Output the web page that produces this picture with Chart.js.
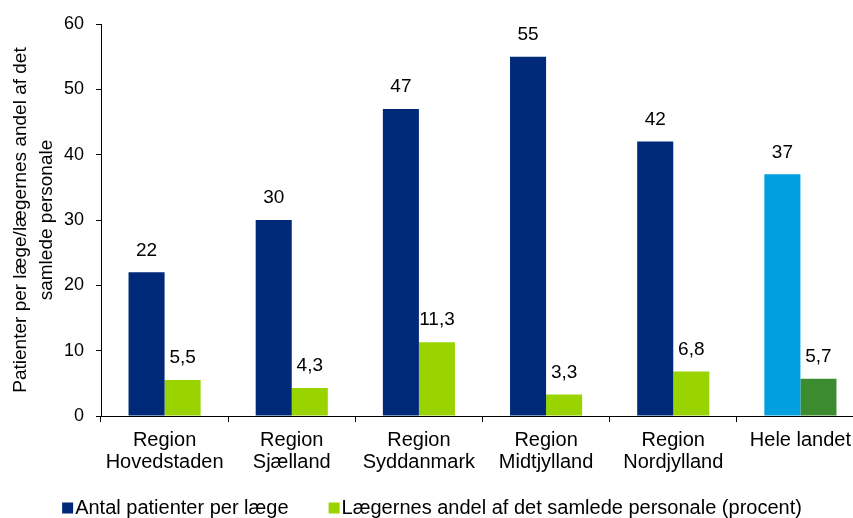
<!DOCTYPE html>
<html>
<head>
<meta charset="utf-8">
<script src="https://cdn.jsdelivr.net/npm/chart.js@4.4.1/dist/chart.umd.min.js"></script>
<style>
  html, body { margin: 0; padding: 0; background: #fff; overflow: hidden; }
  #wrap { position: absolute; left: 0; top: 0; width: 870px; height: 518px; }
</style>
</head>
<body>
<div id="wrap"><canvas id="c" width="870" height="518"></canvas></div>
<script>
const categories = [
  ['Region', 'Hovedstaden'],
  ['Region', 'Sjælland'],
  ['Region', 'Syddanmark'],
  ['Region', 'Midtjylland'],
  ['Region', 'Nordjylland'],
  'Hele landet'
];
const seriesNames = [
  'Antal patienter per læge',
  'Lægernes andel af det samlede personale (procent)'
];
const patientsPerDoctor = [22, 30, 47, 55, 42, 37];
const doctorSharePct = [5.5, 4.3, 11.3, 3.3, 6.8, 5.7];
const yTicks = [0, 10, 20, 30, 40, 50, 60];
const yTitle = ['Patienter per læge/lægernes andel af det', 'samlede personale'];

const NAVY = '#00297A', LIGHTBLUE = '#009FDF', LIME = '#99D400', DKGREEN = '#3D8B2F';
const FONT = '"Liberation Sans", Arial, sans-serif';

const colorsA = categories.map((c, i) => i === categories.length - 1 ? LIGHTBLUE : NAVY);
const colorsB = categories.map((c, i) => i === categories.length - 1 ? DKGREEN : LIME);

const valueLabels = {
  id: 'valueLabels',
  afterDatasetsDraw(chart) {
    const ctx = chart.ctx;
    ctx.save();
    ctx.font = '19px ' + FONT;
    ctx.fillStyle = '#000';
    ctx.textAlign = 'center';
    ctx.textBaseline = 'middle';
    chart.data.datasets.forEach((ds, di) => {
      const meta = chart.getDatasetMeta(di);
      meta.data.forEach((bar, i) => {
        const v = ds.data[i];
        const txt = String(v).replace('.', ',');
        ctx.fillText(txt, bar.x, bar.y - 22);
      });
    });
    ctx.restore();
  }
};

const customLegend = {
  id: 'customLegend',
  afterDraw(chart) {
    const ctx = chart.ctx;
    ctx.save();
    ctx.font = '20px ' + FONT;
    ctx.textBaseline = 'middle';
    ctx.textAlign = 'left';
    const box = 11, gapText = 2, gapItem = 40;
    const legendColors = [NAVY, LIME];
    const widths = seriesNames.map(t => ctx.measureText(t).width);
    let total = 0;
    widths.forEach((w, i) => { total += box + gapText + w + (i < widths.length - 1 ? gapItem : 0); });
    let x = 432 - total / 2;
    const yc = 508;
    seriesNames.forEach((t, i) => {
      ctx.fillStyle = legendColors[i];
      ctx.fillRect(x, yc - box / 2, box, box);
      ctx.fillStyle = '#000';
      ctx.fillText(t, x + box + gapText, yc);
      x += box + gapText + widths[i] + gapItem;
    });
    ctx.restore();
  }
};

new Chart(document.getElementById('c'), {
  type: 'bar',
  data: {
    labels: categories,
    datasets: [
      { label: seriesNames[0], data: patientsPerDoctor, backgroundColor: colorsA, borderWidth: 0,
        categoryPercentage: 0.567, barPercentage: 1.0 },
      { label: seriesNames[1], data: doctorSharePct, backgroundColor: colorsB, borderWidth: 0,
        categoryPercentage: 0.567, barPercentage: 1.0 }
    ]
  },
  options: {
    responsive: false,
    animation: false,
    layout: { padding: { left: 0, right: 6, top: 24, bottom: 42 } },
    plugins: {
      legend: { display: false },
      tooltip: { enabled: false }
    },
    scales: {
      x: {
        grid: { display: true, drawOnChartArea: false, drawTicks: true, tickLength: 6, color: '#000', offset: true },
        border: { display: true, color: '#000', width: 1 },
        ticks: { color: '#000', font: { family: FONT, size: 20, lineHeight: 1.1 }, padding: 7, maxRotation: 0, autoSkip: false },
        afterFit(scale) { scale.height = 60; }
      },
      y: {
        min: 0, max: 60,
        afterBuildTicks(scale) { scale.ticks = yTicks.map(v => ({ value: v })); },
        grid: { display: true, drawOnChartArea: false, drawTicks: true, tickLength: 5, color: '#000' },
        border: { display: true, color: '#000', width: 1 },
        ticks: { color: '#000', font: { family: FONT, size: 18 }, padding: 12 },
        title: { display: true, text: yTitle, color: '#000', font: { family: FONT, size: 19, lineHeight: 1.4 }, padding: { top: 7, bottom: 0 } },
        afterFit(scale) { scale.width = 101; }
      }
    }
  },
  plugins: [valueLabels, customLegend]
});
</script>
</body>
</html>
